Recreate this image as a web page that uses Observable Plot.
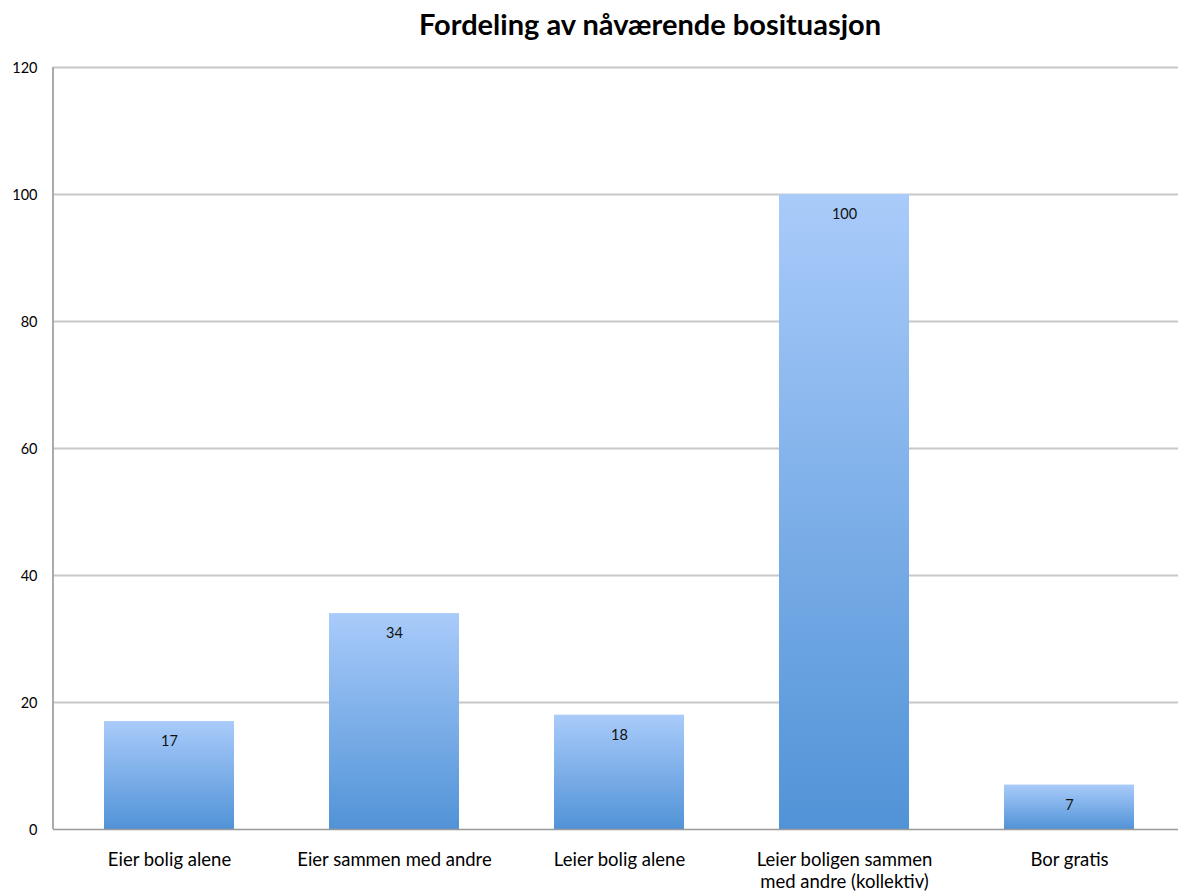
<!DOCTYPE html>
<html>
<head>
<meta charset="utf-8">
<script src="https://cdn.jsdelivr.net/npm/d3@7"></script>
<script src="https://cdn.jsdelivr.net/npm/@observablehq/plot@0.6"></script>
<style>
  body { margin: 0; background: #fff; font-family: Lato, "Open Sans", sans-serif; }
  #title { height: 50px; width: 1178px; box-sizing: border-box; padding-left: 122px; padding-top: 9px; text-align: center;
           font-size: 29px; font-weight: bold; line-height: 1; color: #000; white-space: nowrap; }
</style>
</head>
<body>
<div id="title">Fordeling av nåværende bosituasjon</div>
<div id="chart"></div>
<script>
const categories = ["Eier bolig alene", "Eier sammen med andre", "Leier bolig alene", "Leier boligen sammen\nmed andre (kollektiv)", "Bor gratis"];
const values = [17, 34, 18, 100, 7];
const yTicks = [0, 20, 40, 60, 80, 100, 120];

const data = categories.map((c, i) => ({category: c, value: values[i]}));
const NS = "http://www.w3.org/2000/svg";

const defs = (index, scales, vals, dims) => {
  const g = document.createElementNS(NS, "g");
  g.innerHTML = `<defs><linearGradient id="barGrad" x1="0" y1="0" x2="0" y2="1">
    <stop offset="0%" stop-color="#a9cbfa"/>
    <stop offset="100%" stop-color="#5193d7"/>
  </linearGradient></defs>`;
  return g;
};
const leftAxis = (index, scales, vals, dims) => {
  const l = document.createElementNS(NS, "line");
  const x = dims.marginLeft;
  l.setAttribute("x1", x); l.setAttribute("x2", x);
  l.setAttribute("y1", scales.y(120)); l.setAttribute("y2", scales.y(0));
  l.setAttribute("stroke", "#ababab"); l.setAttribute("stroke-width", 2);
  return l;
};

const chart = Plot.plot({
  width: 1178,
  height: 844,
  marginTop: 17,
  marginBottom: 65,
  marginLeft: 53,
  marginRight: 0,
  style: {fontFamily: "Lato, 'Open Sans', sans-serif", background: "#fff", color: "#000"},
  x: {domain: categories, range: [54, 1183], paddingInner: 0.424, paddingOuter: 0.212, label: null},
  y: {domain: [0, 120], ticks: yTicks, label: null},
  marks: [
    defs,
    Plot.ruleY(yTicks.filter(d => d > 0), {stroke: "#c8c8c8", strokeWidth: 2}),
    Plot.barY(data, {x: "category", y: "value", fill: "url(#barGrad)"}),
    Plot.ruleY([0], {stroke: "#999999", strokeWidth: 1.5}),
    leftAxis,
    Plot.text(data, {x: "category", y: "value", text: d => String(d.value), dy: 20, fontSize: 14.5, fill: "#111"}),
    Plot.axisY({ticks: yTicks, tickSize: 0, tickPadding: 16, fontSize: 14.5, dy: 1}),
    Plot.axisX({tickSize: 0, tickPadding: 21, fontSize: 18.5, lineHeight: 1.2})
  ]
});
document.getElementById("chart").appendChild(chart);
</script>
</body>
</html>
